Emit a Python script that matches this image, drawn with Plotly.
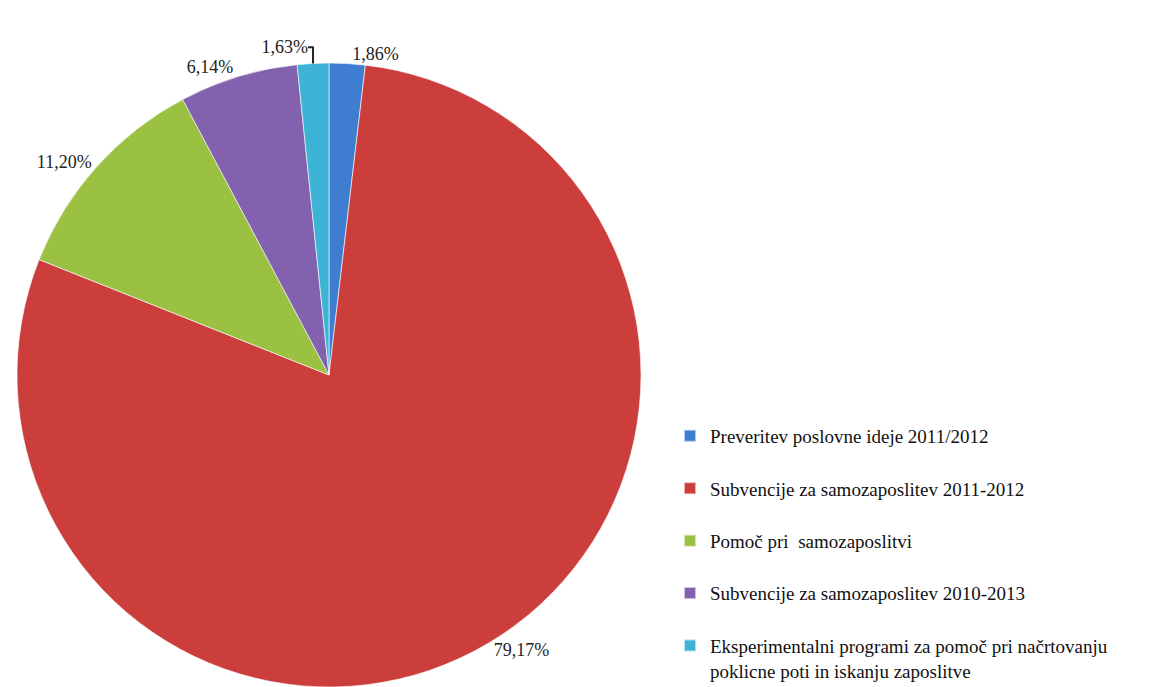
import plotly.graph_objects as go

categories = [
    "Preveritev poslovne ideje 2011/2012",
    "Subvencije za samozaposlitev 2011-2012",
    "Pomoč pri  samozaposlitvi",
    "Subvencije za samozaposlitev 2010-2013",
    "Eksperimentalni programi za pomoč pri načrtovanju<br>poklicne poti in iskanju zaposlitve",
]
shares = [1.86, 79.17, 11.20, 6.14, 1.63]
colors = ["#3E7DCF", "#CB3E3C", "#9AC142", "#8261AE", "#3DB4D6"]

labels_text = [f"{v:.2f}".replace(".", ",") + "%" for v in shares]
legend_labels = [c + "<br> " if i < len(categories) - 1 else c for i, c in enumerate(categories)]

W, H = 1159, 687
cx, cy, r = 329, 375, 312

fig = go.Figure(
    go.Pie(
        labels=legend_labels,
        values=shares,
        text=labels_text,
        textinfo="text",
        textposition="outside",
        sort=False,
        direction="clockwise",
        rotation=0,
        marker=dict(colors=colors, line=dict(color="rgba(255,255,255,0.6)", width=1)),
        textfont=dict(family="Liberation Serif", size=18, color="#222222"),
        outsidetextfont=dict(family="Liberation Serif", size=18, color="#222222"),
        domain=dict(x=[(cx - r) / W, (cx + r) / W],
                    y=[max(0, (H - cy - r) / H), (H - cy + r) / H]),
        hoverinfo="label+text",
    )
)

fig.update_layout(
    width=W,
    height=H,
    margin=dict(l=0, r=0, t=0, b=0, autoexpand=False),
    paper_bgcolor="white",
    plot_bgcolor="white",
    showlegend=True,
    legend=dict(
        x=670 / W,
        xanchor="left",
        y=1 - 417 / H,
        yanchor="top",
        valign="top",
        font=dict(family="Liberation Serif", size=19, color="#111111"),
        itemsizing="constant",
        itemwidth=30,
        bgcolor="rgba(0,0,0,0)",
    ),
)

fig.write_html(
    "out.html",
    config={"displayModeBar": False},
    post_script="document.body.style.margin='0';",
)
